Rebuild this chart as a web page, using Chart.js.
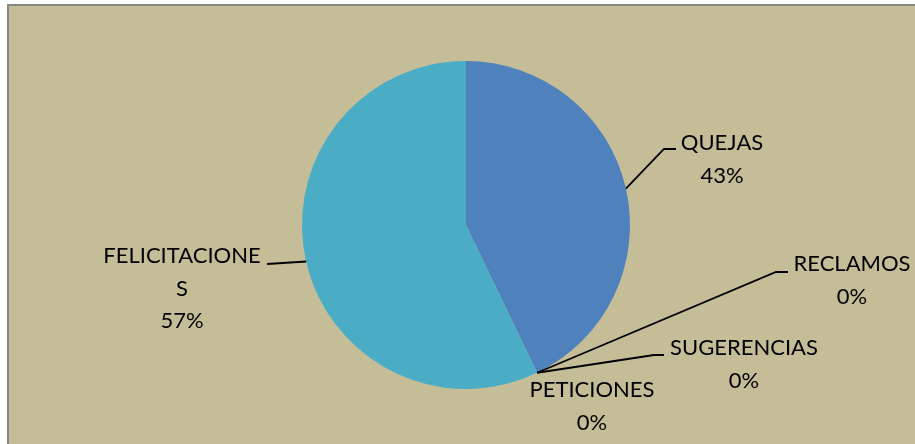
<!DOCTYPE html>
<html>
<head>
<meta charset="utf-8">
<script src="https://cdn.jsdelivr.net/npm/chart.js@4.4.0/dist/chart.umd.min.js"></script>
<style>
    html, body { margin: 0; padding: 0; background: #ffffff; }
    #frame {
        position: absolute; left: 7px; top: 4px; width: 920px; height: 450px;
        background: #c4bd97; border-left: 2px solid #878787; border-top: 2px solid #878787;
    }
    #wrap { position: absolute; left: 0; top: 0; width: 915px; height: 444px; }
</style>
</head>
<body>
<div id="frame"></div>
<div id="wrap"><canvas id="pie-chart"></canvas></div>
<script>
const categories = ['QUEJAS', 'RECLAMOS', 'SUGERENCIAS', 'PETICIONES', 'FELICITACIONES'];
const counts = [3, 0, 0, 0, 4];
const sliceColors = ['#4f81bd', '#c0504d', '#9bbb59', '#8064a2', '#4bacc6'];

// where each label sits and how its leader line bends (pixels)
const labelLayout = [
    { lines: ['QUEJAS'], textX: 722, textY: 143, elbow: [664, 149], end: [676, 149] },
    { lines: ['RECLAMOS'], textX: 852, textY: 264, elbow: [776, 272], end: [788, 272] },
    { lines: ['SUGERENCIAS'], textX: 744, textY: 348, elbow: [654, 355], end: [664, 355] },
    { lines: ['PETICIONES'], textX: 592, textY: 390, elbow: null, end: null },
    { lines: ['FELICITACIONE', 'S'], textX: 182, textY: 256, elbow: [267, 264], end: null },
];

const total = counts.reduce((a, b) => a + b, 0);

const outsideLabels = {
    id: 'outsideLabels',
    afterDatasetsDraw(chart) {
        const ctx = chart.ctx;
        const arcs = chart.getDatasetMeta(0).data;
        ctx.save();
        ctx.strokeStyle = '#000000';
        ctx.lineWidth = 1.8;
        ctx.fillStyle = '#000000';
        ctx.font = '22px Lato';
        ctx.textAlign = 'center';
        ctx.textBaseline = 'middle';
        arcs.forEach((arc, i) => {
            const layout = labelLayout[i];
            const mid = (arc.startAngle + arc.endAngle) / 2;
            const sx = arc.x + Math.cos(mid) * arc.outerRadius;
            const sy = arc.y + Math.sin(mid) * arc.outerRadius;
            if (layout.elbow) {
                ctx.beginPath();
                ctx.moveTo(sx, sy);
                ctx.lineTo(layout.elbow[0], layout.elbow[1]);
                if (layout.end) ctx.lineTo(layout.end[0], layout.end[1]);
                ctx.stroke();
            }
            const pct = Math.round(counts[i] / total * 100) + '%';
            const lines = layout.lines.concat([pct]);
            lines.forEach((txt, k) => {
                ctx.fillText(txt, layout.textX, layout.textY + k * 32.5);
            });
        });
        ctx.restore();
    }
};

const ctx = document.getElementById('pie-chart').getContext('2d');
const chart = new Chart(ctx, {
    type: 'pie',
    data: {
        labels: categories,
        datasets: [{
            data: counts,
            backgroundColor: sliceColors,
            borderWidth: 0,
        }]
    },
    options: {
        responsive: true,
        maintainAspectRatio: false,
        animation: false,
        layout: { padding: { left: 17, right: 0, top: 61, bottom: 55 } },
        plugins: {
            legend: { display: false },
            tooltip: { enabled: false },
        }
    },
    plugins: [outsideLabels]
});
</script>
</body>
</html>
